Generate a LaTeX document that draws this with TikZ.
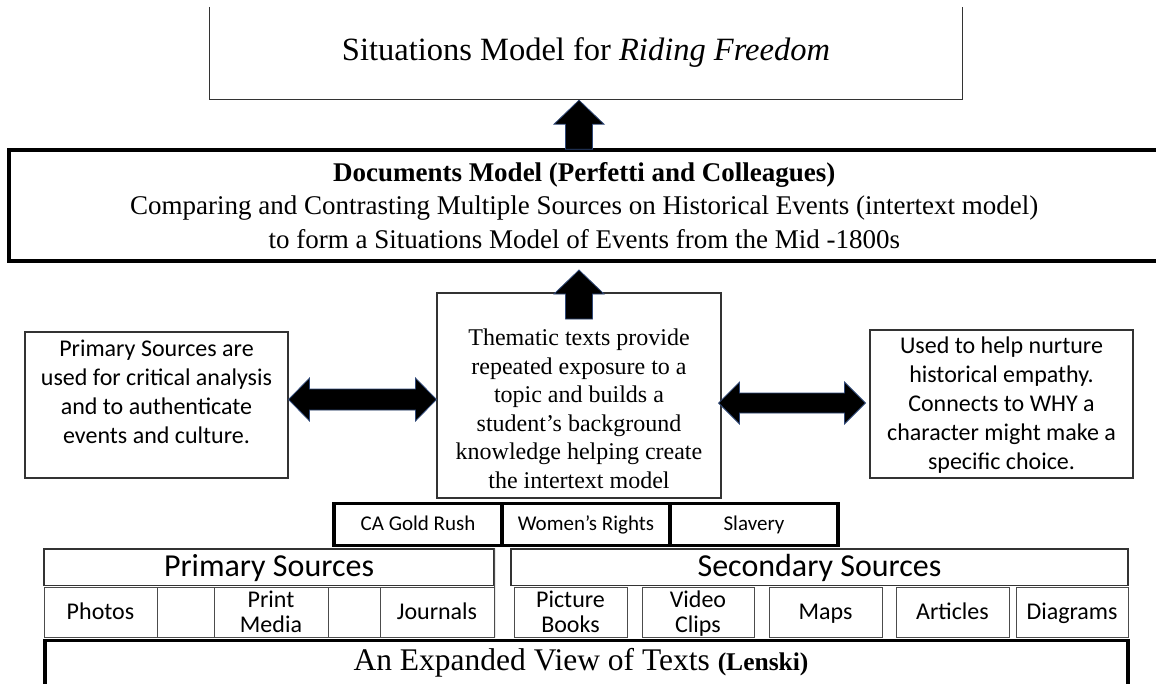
\documentclass[tikz,border=0pt]{standalone}
\usepackage{fontspec}
\setmainfont{Liberation Serif}
\newfontfamily\calib{Carlito}
\usetikzlibrary{calc}

% filled block arrows
\newcommand\blockup[1]{%
  \filldraw[blockarrow] (#1) -- ++(25,24) -- ++(-11.5,0) -- ++(0,25)
    -- ++(-27,0) -- ++(0,-25) -- ++(-11.5,0) -- cycle;}
% #1 left tip, #2 right tip, #3 head length, #4 head half-height, #5 shaft half-height
\newcommand\blockboth[5]{%
  \filldraw[blockarrow] (#1) -- ($(#1)+(#3,-#4)$) -- ($(#1)+(#3,-#5)$)
    -- ($(#2)+(-#3,-#5)$) -- ($(#2)+(-#3,-#4)$) -- (#2)
    -- ($(#2)+(-#3,#4)$) -- ($(#2)+(-#3,#5)$) -- ($(#1)+(#3,#5)$)
    -- ($(#1)+(#3,#4)$) -- cycle;}
% line strut for the table cells
\newcommand\cs{\rule[-5pt]{0pt}{25pt}}

\begin{document}
\begin{tikzpicture}[x=1pt,y=-1pt,
  thinbox/.style={draw=black!80, line width=1.1pt, inner sep=0pt},
  cellbox/.style={draw=black!70, line width=1pt, inner sep=0pt,
    minimum height=50pt, font=\calib\fontsize{24}{25}\selectfont, align=center},
  topicbox/.style={draw=black, line width=3.5pt, inner sep=0pt,
    minimum width=168pt, minimum height=42pt,
    text height=16pt, text depth=4pt,
    font=\calib\fontsize{21}{24}\selectfont},
  headbox/.style={draw=black!80, line width=1.1pt, inner sep=0pt,
    minimum height=36.5pt, text height=24pt, text depth=5pt,
    font=\calib\fontsize{32}{36}\selectfont},
  blockarrow/.style={fill=black, draw={rgb,255:red,47;green,72;blue,120}, line width=0.8pt},
  sidetext/.style={font=\calib\fontsize{24}{29}\selectfont, align=center, inner sep=0pt},
]
\useasboundingbox (0,0) rectangle (1156,683);
\clip (0,0) rectangle (1156,683);
\fill[white] (0,0) rectangle (1156,683);

% situations model (open at the top)
\node[inner sep=0pt, minimum width=752pt, minimum height=92pt,
      font=\fontsize{32.5}{36}\selectfont] (top) at (586,53)
  {Situations Model for \textit{Riding Freedom}};
\draw[draw=black!80, line width=1.1pt]
  (top.north west) -- (top.south west) -- (top.south east) -- (top.north east);

% documents model
\node[draw=black, line width=4pt, inner sep=0pt, minimum width=1151.5pt,
      minimum height=111.5pt, align=center,
      font=\fontsize{27}{33.5}\selectfont] (docs) at (584.25,205.25)
  {\textbf{Documents Model (Perfetti and Colleagues)}\\
   Comparing and Contrasting Multiple Sources on Historical Events (intertext model)\\
   to form a Situations Model of Events from the Mid -1800s};

% thematic texts and the two side boxes
\node[thinbox, minimum width=284pt, minimum height=205pt] (cbox) at (579,395.5) {};
\node[font=\fontsize{24}{28.5}\selectfont, align=center, inner sep=0pt] (ctext) at (579,409)
  {Thematic texts provide\\ repeated exposure to a\\ topic and builds a\\
   student’s background\\ knowledge helping create\\ the intertext model};
\node[thinbox, minimum width=263pt, minimum height=146pt] (lbox) at (156.5,405) {};
\node[sidetext] (ltext) at (156.5,392)
  {Primary Sources are\\ used for critical analysis\\ and to authenticate\\ events and culture.};
\node[thinbox, minimum width=263pt, minimum height=148pt] (rbox) at (1001.5,404) {};
\node[sidetext] (rtext) at (1001.5,405)
  {Used to help nurture\\ historical empathy.\\ Connects to WHY a\\ character might make a\\ specific choice.};

% arrows
\coordinate (ax) at (579,0);
\coordinate (ya) at (0,399.5);
\coordinate (yb) at (0,403);
\coordinate (tip1) at ($(ax |- top.south)+(0,1)$);
\coordinate (tip2) at ($(ax |- docs.south)+(0,7)$);
\blockup{tip1}
\blockup{tip2}
\coordinate (la) at (lbox.east |- ya);
\coordinate (lb) at (cbox.west |- ya);
\coordinate (ra) at ($(cbox.east |- yb)+(-3,0)$);
\coordinate (rb) at ($(rbox.west |- yb)+(-4,0)$);
\blockboth{la}{lb}{21}{21.5}{10.5}
\blockboth{ra}{rb}{21}{21}{10}

% topics
\node[topicbox] (gold) at (418,524.5) {CA Gold Rush};
\node[topicbox] (women) at (586,524.5) {Women’s Rights};
\node[topicbox] (slave) at (754,524.5) {Slavery};

% primary sources table
\node[headbox, minimum width=450pt] (phead) at (269,567.25) {Primary Sources};
\node[cellbox, minimum width=113pt] (photos) at (100.5,612) {\cs Photos};
\node[cellbox, minimum width=57pt] (pblank1) at (185.5,612) {};
\node[cellbox, minimum width=114pt] (print) at (271,612) {\cs Print\\\cs Media};
\node[cellbox, minimum width=52pt] (pblank2) at (354,612) {};
\node[cellbox, minimum width=114pt] (journals) at (437,612) {\cs Journals};
\draw[draw=black!70, line width=1pt] (phead.north east) -- (journals.south east);

% secondary sources table
\node[headbox, minimum width=617pt] (shead) at (819.5,567.25) {Secondary Sources};
\node[cellbox, minimum width=113pt] (books) at (570.5,612) {\cs Picture\\\cs Books};
\node[cellbox, minimum width=112pt] (video) at (698,612) {\cs Video\\\cs Clips};
\node[cellbox, minimum width=113pt] (maps) at (825.5,612) {\cs Maps};
\node[cellbox, minimum width=113pt] (articles) at (952.5,612) {\cs Articles};
\node[cellbox, minimum width=112pt] (diagrams) at (1072,612) {\cs Diagrams};

% expanded view of texts
\node[draw=black, line width=3.5pt, inner sep=0pt, minimum width=1083pt,
      minimum height=60pt] (expand) at (586.5,670.5) {};
\node[inner sep=0pt, font=\fontsize{31.5}{34}\selectfont] (etext) at (581,663)
  {An Expanded View of Texts {\bfseries\fontsize{25.5}{28}\selectfont (Lenski)}};
\end{tikzpicture}
\end{document}
